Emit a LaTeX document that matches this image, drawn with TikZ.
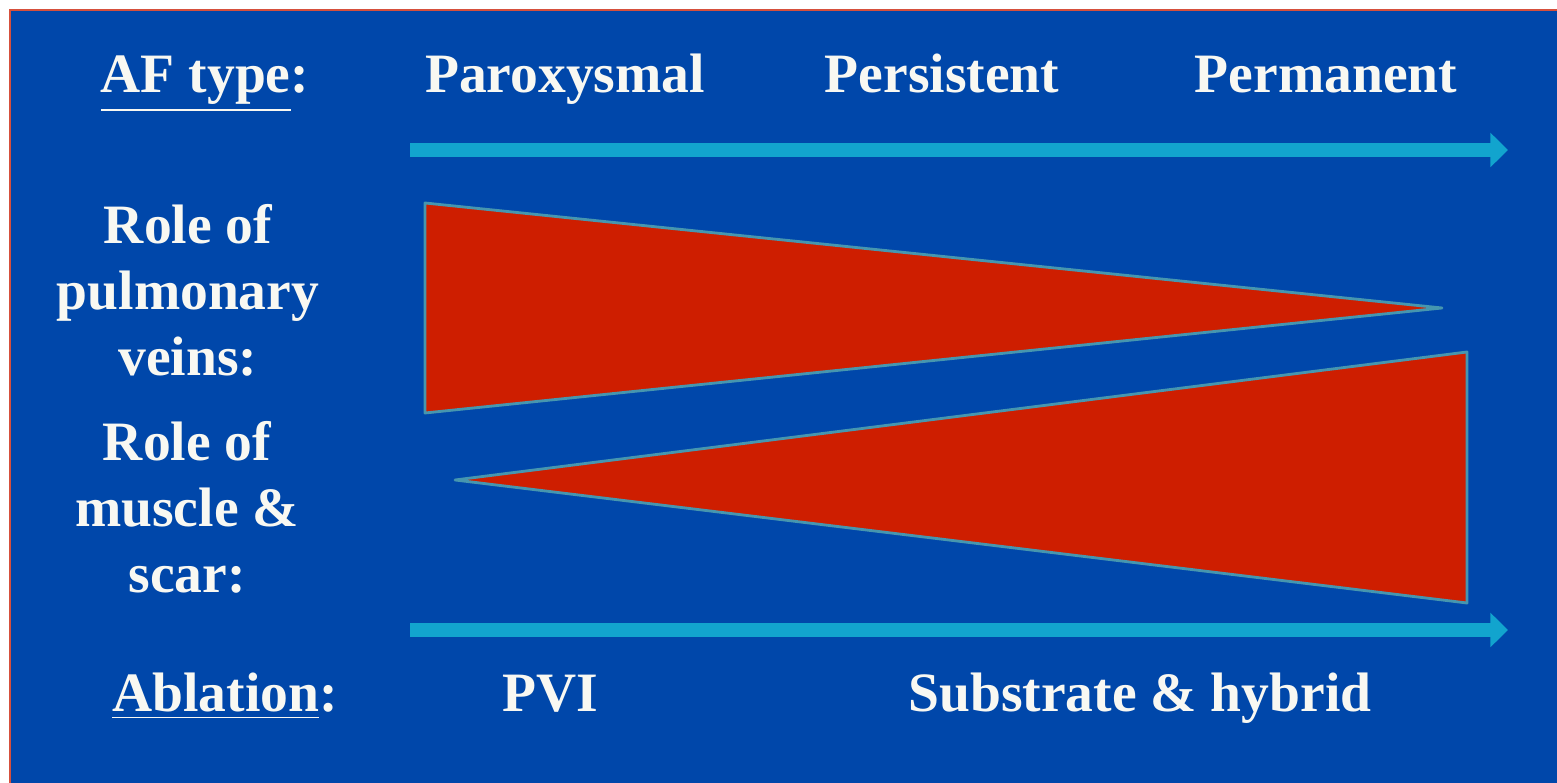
\documentclass[tikz,border=0pt]{standalone}
\usepackage{fontspec}
\setmainfont{Liberation Serif}
\usepackage{xcolor}
\usetikzlibrary{arrows.meta}
\definecolor{slideblue}{RGB}{0,71,170}
\definecolor{slideedge}{RGB}{214,80,60}
\definecolor{barcyan}{RGB}{18,164,206}
\definecolor{wedgered}{RGB}{206,30,0}
\definecolor{wedgeline}{RGB}{70,150,175}
\definecolor{labelwhite}{RGB}{248,248,242}
\tikzset{
  lbl/.style={text=labelwhite, font=\fontsize{15.8}{18.8}\selectfont\bfseries, inner sep=0pt},
  rowlbl/.style={lbl, align=center},
  bar/.style={-{Triangle[length=5pt, width=9.5pt]}, line width=4pt, draw=barcyan},
  wedge/.style={fill=wedgered, draw=wedgeline, line width=0.8pt, line join=round}
}

\begin{document}
\begin{tikzpicture}[x=0.01cm, y=-0.01cm]
  \useasboundingbox (0,0) rectangle (1557,783);
  % slide background, edge only on left and top
  \fill[slideblue] (10,10) rectangle (1557,783);
  \draw[slideedge, line width=0.7pt] (10,783) -- (10,10) -- (1557,10);

  % header row
  \node[lbl, anchor=base] (aftype) at (205,93) {\underline{AF type}:};
  \node[lbl, anchor=base] (parox) at (565,93) {Paroxysmal};
  \node[lbl, anchor=base] (persist) at (942,93) {Persistent};
  \node[lbl, anchor=base] (perman) at (1326,93) {Permanent};

  % upper bar
  \coordinate (topstart) at (410,150);
  \coordinate (topend) at (1508,150);
  \draw[bar] (topstart) -- (topend);

  % wedges
  \draw[wedge] (425,203) -- (1442,308) -- (425,413) -- cycle;
  \draw[wedge] (455,480) -- (1467,352) -- (1467,603) -- cycle;

  % row labels
  \node[rowlbl] (pvrole) at (188,290) {Role of\\pulmonary\\veins:};
  \node[rowlbl] (musrole) at (187,507) {Role of\\muscle \&\\scar:};

  % lower bar
  \coordinate (botstart) at (410,630);
  \coordinate (botend) at (1508,630);
  \draw[bar] (botstart) -- (botend);

  % ablation row
  \node[lbl, anchor=base] (ablation) at (225,712) {\underline{Ablation}:};
  \node[lbl, anchor=base] (pvi) at (550,712) {PVI};
  \node[lbl, anchor=base] (substrate) at (1140,712) {Substrate \& hybrid};
\end{tikzpicture}
\end{document}
